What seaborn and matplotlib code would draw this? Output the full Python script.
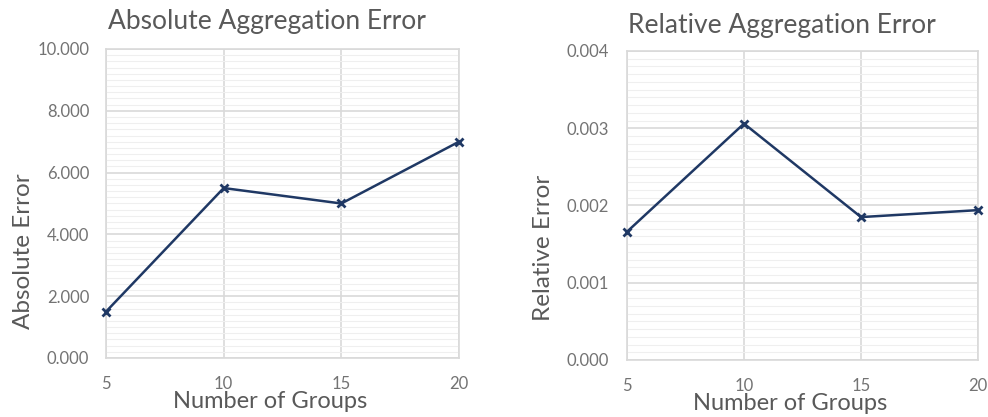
import numpy as np
import pandas as pd
import seaborn as sns
import matplotlib.pyplot as plt
from matplotlib.ticker import MultipleLocator, FormatStrFormatter

groups = [5, 10, 15, 20]
abs_error = [1.5, 5.5, 5.0, 7.0]
rel_error = [0.00166, 0.00306, 0.00185, 0.00194]

sns.set_style('white')
plt.rcParams['font.family'] = ['Lato', 'DejaVu Sans']

line_c = '#1f3864'
text_c = '#595959'
tick_c = '#737373'
grid_c = '#d9d9d9'

fig = plt.figure(figsize=(9.88, 4.17), dpi=100)
ax1 = fig.add_axes([0.1073, 0.1415, 0.3573, 0.741])
ax2 = fig.add_axes([0.6346, 0.1367, 0.3553, 0.741])


def style_ax(ax, ymax, major, minor, fmt, ypad):
    ax.set_xlim(5, 20)
    ax.set_ylim(0, ymax)
    ax.xaxis.set_major_locator(MultipleLocator(5))
    ax.yaxis.set_major_locator(MultipleLocator(major))
    ax.yaxis.set_minor_locator(MultipleLocator(minor))
    ax.yaxis.set_major_formatter(FormatStrFormatter(fmt))
    ax.grid(which='major', color=grid_c, lw=1.2)
    ax.grid(which='minor', axis='y', color='#efefef', lw=0.8)
    ax.set_axisbelow(True)
    for s in ax.spines.values():
        s.set_color(grid_c)
        s.set_linewidth(1.2)
    ax.tick_params(axis='both', which='both', length=0, colors=tick_c, labelsize=12)
    ax.tick_params(axis='x', pad=13)
    ax.tick_params(axis='y', pad=ypad)


df = pd.DataFrame({'groups': groups, 'abs': abs_error, 'rel': rel_error})

for ax, col in [(ax1, 'abs'), (ax2, 'rel')]:
    sns.lineplot(data=df, x='groups', y=col, ax=ax, color=line_c, lw=1.8,
                 marker='x', markersize=6, markeredgewidth=2,
                 markeredgecolor=line_c, clip_on=False, zorder=5)

style_ax(ax1, 10, 2, 0.2, '%.3f', 12)
style_ax(ax2, 0.004, 0.001, 0.0001, '%.3f', 13)

for ax in (ax1, ax2):
    ax.set_xlabel('')
    ax.set_ylabel('')

fig.text(267 / 988, 1 - 22 / 417, 'Absolute Aggregation Error', ha='center', va='center',
         fontsize=19, color=text_c)
fig.text(782 / 988, 1 - 25 / 417, 'Relative Aggregation Error', ha='center', va='center',
         fontsize=19, color=text_c)
fig.text(270 / 988, 1 - 401 / 417, 'Number of Groups', ha='center', va='center',
         fontsize=17, color=text_c)
fig.text(790 / 988, 1 - 403 / 417, 'Number of Groups', ha='center', va='center',
         fontsize=17, color=text_c)
fig.text(24 / 988, 1 - 251 / 417, 'Absolute Error', ha='center', va='center',
         rotation=90, fontsize=17.5, color=text_c)
fig.text(543 / 988, 1 - 248 / 417, 'Relative Error', ha='center', va='center',
         rotation=90, fontsize=17.5, color=text_c)

fig.savefig('out.png', dpi=100)
